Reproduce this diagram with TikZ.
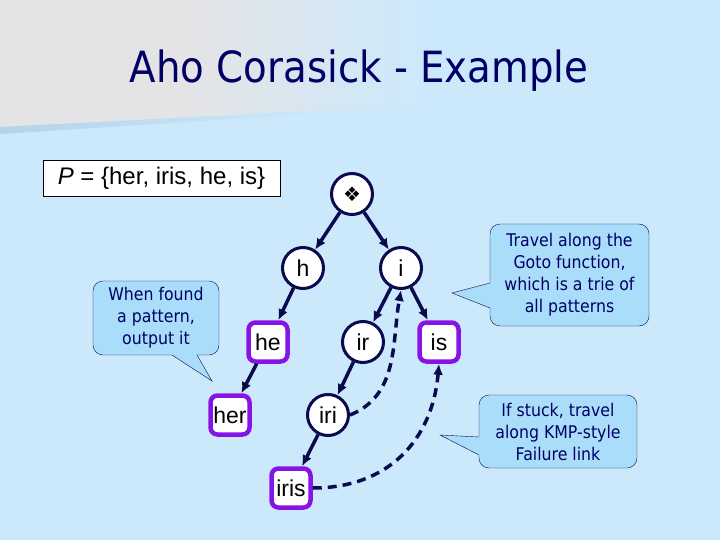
\documentclass[tikz,border=0pt]{standalone}
\usepackage{fontspec}
\setmainfont{Liberation Sans}
\newfontfamily\tahoma[FakeStretch=0.9]{DejaVu Sans}
\newfontfamily\dingfont{DejaVu Sans}
\usetikzlibrary{positioning,calc,arrows.meta}
\definecolor{bgblue}{RGB}{204,233,252}
\definecolor{slidegray}{RGB}{228,228,230}
\definecolor{bandblue}{RGB}{180,212,234}
\definecolor{navy}{RGB}{0,0,102}
\definecolor{linenavy}{RGB}{10,10,80}
\definecolor{pattpurple}{RGB}{135,20,230}
\definecolor{callfill}{RGB}{170,221,250}
\pgfdeclarehorizontalshading{slidefade}{100bp}{color(0bp)=(slidegray); color(45bp)=(slidegray); color(70bp)=(bgblue); color(100bp)=(bgblue)}
\tikzset{trienode/.style={draw=linenavy,circle,fill=white,line width=3pt,minimum size=41pt,inner sep=0pt,font=\fontsize{23}{23}\selectfont}}
\tikzset{outnode/.style={draw=pattpurple,rounded corners=7pt,fill=white,line width=4.5pt,minimum size=39pt,inner sep=0pt,font=\fontsize{23}{23}\selectfont}}
\tikzset{gotoedge/.style={draw=linenavy,line width=3.5pt,-{Latex[length=11pt,width=10pt]}}}
\tikzset{faillink/.style={draw=linenavy,line width=3.5pt,dash pattern=on 9pt off 6pt,-{Latex[length=11pt,width=10pt]}}}
\tikzset{callbox/.style={draw=linenavy,fill=callfill,rounded corners=10pt,thin,align=center,text=navy,font=\tahoma\fontsize{17.5}{22}\selectfont}}
\tikzset{calledge/.style={draw=linenavy,thin}}
\newcommand\calltip[3]{\fill[callfill] (#1) -- ($(#1)!1.12!(#2)$) -- ($(#1)!1.12!(#3)$) -- cycle;
	\draw[calledge] (#2) -- (#1) -- (#3);}

\begin{document}
\begin{tikzpicture}[x=1pt,y=-1pt]
	\useasboundingbox (0,0) rectangle (720,540);
	\fill[bgblue] (0,0) rectangle (720,540);
	\shade[shading=slidefade] (0,0) -- (470,0) -- (470,104) -- (0,128) -- cycle;
	\shade[left color=bandblue,right color=bgblue] (0,127) -- (330,110) -- (330,113) -- (0,134) -- cycle;

	\node[font=\tahoma\fontsize{43}{43}\selectfont,text=navy,anchor=base] (title) at (359,83) {Aho Corasick - Example};
	\node[draw=black,fill=white,thin,minimum width=237pt,minimum height=36pt,font=\fontsize{24}{24}\selectfont] (pset) at (161.5,178) {\textit{P} = \{her, iris, he, is\}};

	% trie
	\node[trienode] (root) at (352,194) {\dingfont\fontsize{20}{20}\selectfont ❖};
	\node[trienode] (h) at (303,268) {h};
	\node[trienode] (i) at (401,268) {i};
	\node[outnode] (he) at (268,342) {he};
	\node[trienode] (ir) at (363,342) {ir};
	\node[outnode] (is) at (439,342) {is};
	\node[outnode] (her) at (230,415) {her};
	\node[trienode] (iri) at (328,415) {iri};
	\node[outnode] (iris) at (291,488) {iris};

	\draw[gotoedge] (root) edge (h) edge (i);
	\draw[gotoedge] (h) edge (he);
	\draw[gotoedge] (i) edge (ir) edge (is);
	\draw[gotoedge] (he) edge (her);
	\draw[gotoedge] (ir) edge (iri);
	\draw[gotoedge] (iri) edge (iris);

	% failure links
	\draw[faillink] (iri.east) to[out=22,in=-100] (i.south);
	\draw[faillink] (iris.east) to[out=0,in=-95,looseness=1.1] (is.south);

	% callouts
	\node[callbox,minimum width=126pt,minimum height=74pt] (found) at (156,318) {When found\\a pattern,\\output it};
	\coordinate (foundtip) at (212,381);
	\coordinate (founda) at (172,355);
	\coordinate (foundb) at (197,355);
	\calltip{foundtip}{founda}{foundb}

	\node[callbox,minimum width=159pt,minimum height=102pt] (goto) at (569.5,275) {Travel along the\\Goto function,\\which is a trie of\\all patterns};
	\coordinate (gototip) at (452,293);
	\coordinate (gotoa) at (490,283);
	\coordinate (gotob) at (490,308);
	\calltip{gototip}{gotoa}{gotob}

	\node[callbox,minimum width=158pt,minimum height=73pt] (stuck) at (558,431.5) {If stuck, travel\\along KMP-style\\Failure link};
	\coordinate (stucktip) at (440,435);
	\coordinate (stucka) at (479,437);
	\coordinate (stuckb) at (479,455);
	\calltip{stucktip}{stucka}{stuckb}
\end{tikzpicture}
\end{document}
